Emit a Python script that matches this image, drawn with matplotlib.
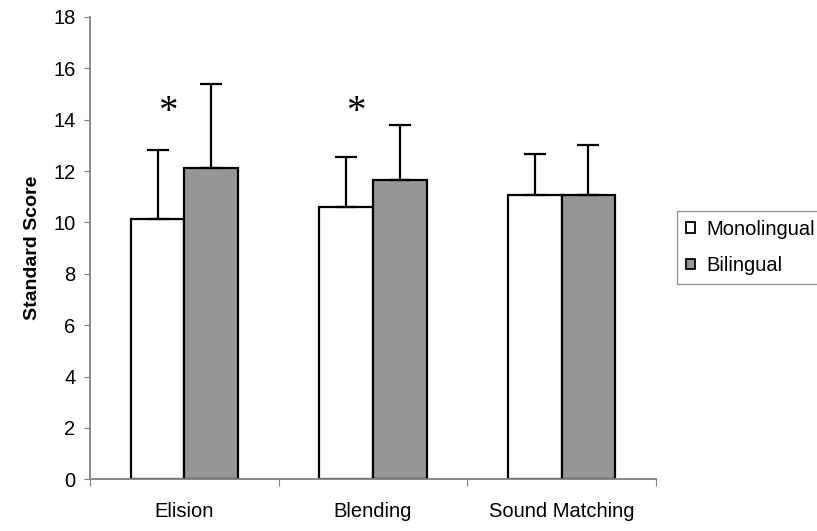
import matplotlib
matplotlib.use("Agg")
import matplotlib.pyplot as plt
import numpy as np
from matplotlib.patches import Patch

categories = ["Elision", "Blending", "Sound Matching"]
mono_means = [10.15, 10.60, 11.06]
mono_sd = [2.66, 1.96, 1.60]
bili_means = [12.12, 11.67, 11.06]
bili_sd = [3.26, 2.14, 1.97]
significant = [True, True, False]
series_labels = ["Monolingual", "Bilingual"]
y_ticks = [0, 2, 4, 6, 8, 10, 12, 14, 16, 18]

plt.rcParams['font.family'] = ['Liberation Sans', 'DejaVu Sans']

fig = plt.figure(figsize=(8.17, 5.31), dpi=100)
ax = fig.add_axes([90/817, 1-479.3/531, 566/817, 462.3/531])

x = np.arange(len(categories))
w = 0.284
ax.bar(x - w/2, mono_means, w, color="white", edgecolor="black", linewidth=1.6, zorder=2)
ax.bar(x + w/2, bili_means, w, color="#969696", edgecolor="black", linewidth=1.6, zorder=2)
ax.errorbar(x - w/2, mono_means, yerr=[np.zeros(3), mono_sd], fmt="none", ecolor="black",
            elinewidth=1.6, capsize=8, capthick=1.6, zorder=3)
ax.errorbar(x + w/2, bili_means, yerr=[np.zeros(3), bili_sd], fmt="none", ecolor="black",
            elinewidth=1.6, capsize=8, capthick=1.6, zorder=3)

for i, s in enumerate(significant):
    if s:
        ax.text(i - 0.09, 14.3, "*", ha="center", va="center", fontsize=28,
                family=["Liberation Serif", "DejaVu Serif"])

ax.set_xlim(-0.5, 2.5)
ax.set_ylim(0, 18)
ax.set_yticks(y_ticks)
ax.set_yticklabels([str(t) for t in y_ticks], fontsize=14.5)
ax.set_xticks([-0.5, 0.5, 1.5, 2.5])
ax.set_xticklabels([])
ax.set_xticks(x, minor=True)
ax.set_xticklabels(categories, minor=True, fontsize=14.5)
ax.tick_params(axis="x", which="minor", length=0, pad=16.5)
ax.tick_params(axis="x", which="major", length=5, direction="out", color="#808080")
ax.tick_params(axis="y", length=4.5, direction="out", color="#808080", pad=6)
for s in ["top", "right"]:
    ax.spines[s].set_visible(False)
for s in ["left", "bottom"]:
    ax.spines[s].set_color("#808080")
    ax.spines[s].set_linewidth(1.3)

ax.set_ylabel("Standard Score", fontsize=14, fontweight="bold", labelpad=9)

handles = [Patch(facecolor="white", edgecolor="black", linewidth=1.3),
           Patch(facecolor="#969696", edgecolor="black", linewidth=1.3)]
leg = fig.legend(handles, series_labels, loc="upper left",
                 bbox_to_anchor=(677/817, 1-211/531), fontsize=14.5,
                 frameon=True, fancybox=False, edgecolor="#808080",
                 handlelength=0.45, handleheight=0.45, handletextpad=0.55,
                 borderpad=0.45, labelspacing=0.85, borderaxespad=0)
leg.get_frame().set_linewidth(1.0)

fig.savefig("out.png", dpi=100)
